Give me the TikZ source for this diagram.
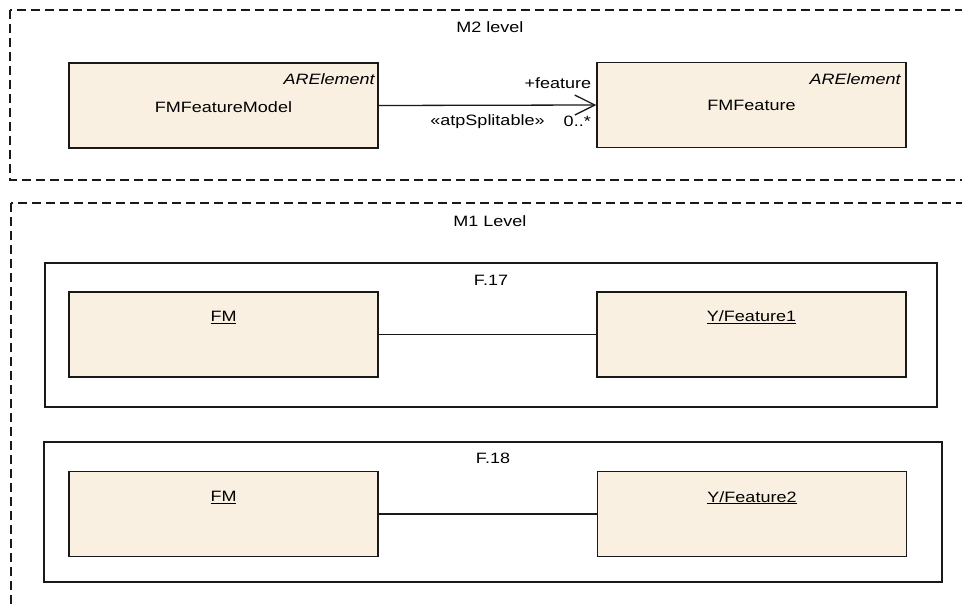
\documentclass[tikz,border=0pt]{standalone}
\usepackage{fontspec}
\setmainfont{Liberation Sans}[FakeStretch=1.2]
\usepackage{tikz}
\usetikzlibrary{arrows.meta}
\definecolor{classfill}{RGB}{250,240,226}
\definecolor{linegray}{RGB}{25,25,25}

\begin{document}
\begin{tikzpicture}[x=1pt,y=-1pt,
  font=\fontsize{15}{18}\selectfont, inner sep=0pt,
  levelframe/.style={draw=linegray, line width=1.4pt, dash pattern=on 9pt off 5pt},
  fragframe/.style={draw=linegray, line width=1.5pt, rectangle},
  classbox/.style={draw=linegray, line width=1.5pt, fill=classfill, rectangle,
    minimum width=309pt, minimum height=85pt},
  stereo/.style={anchor=east, font=\fontsize{15}{18}\selectfont\itshape},
  assoc/.style={draw=linegray, line width=1.3pt, -{Straight Barb[length=20pt,width=20pt,line width=1.3pt]}},
  link/.style={draw=linegray, line width=1.3pt}]
\clip (0,0) rectangle (962,605);
% M2 level
\draw[levelframe] (10,10) rectangle (975,180);
\node (m2Label) at (490,27) {M2 level};
\node[classbox] (fmModel) at (223.5,105.5) {};
\node[classbox] (fmFeature) at (751.5,105) {};
\node[stereo] at ([xshift=-4pt,yshift=-17pt]fmModel.north east) {ARElement};
\node[stereo] at ([xshift=-6pt,yshift=-17pt]fmFeature.north east) {ARElement};
\node at ([yshift=-45pt]fmModel.north) {FMFeatureModel};
\node at ([yshift=-44pt]fmFeature.north) {FMFeature};
\draw[assoc] (fmModel.east) -- (fmFeature.west)
  node[pos=0.5, yshift=-16pt] (stereoLbl) {«atpSplitable»};
\node[anchor=east] (roleLbl) at ([xshift=-5pt,yshift=22pt]fmFeature.west) {+feature};
\node (multLbl) at ([xshift=-19pt,yshift=-16pt]fmFeature.west) {0..*};
% M1 level
\draw[levelframe] (11,203) rectangle (975,640);
\node (m1Label) at (490,221) {M1 Level};
% F.17
\node[fragframe, minimum width=892pt, minimum height=144pt] (frag17) at (491,335) {};
\node at ([yshift=-18pt]frag17.north) {F.17};
\node[classbox] (fm17) at (223.5,334.5) {};
\node[classbox] (yFeat1) at (751.5,334.5) {};
\node at ([yshift=-26pt]fm17.north) {\underline{FM}};
\node at ([yshift=-26pt]yFeat1.north) {\underline{Y/Feature1}};
\draw[link] (fm17.east) -- (yFeat1.west);
% F.18
\node[fragframe, minimum width=898pt, minimum height=140pt] (frag18) at (493,512) {};
\node at ([yshift=-17pt]frag18.north) {F.18};
\node[classbox] (fm18) at (223.5,514) {};
\node[classbox] (yFeat2) at (752,514) {};
\node at ([yshift=-27pt]fm18.north) {\underline{FM}};
\node at ([yshift=-27pt]yFeat2.north) {\underline{Y/Feature2}};
\draw[link] (fm18.east) -- (yFeat2.west);
\end{tikzpicture}
\end{document}
